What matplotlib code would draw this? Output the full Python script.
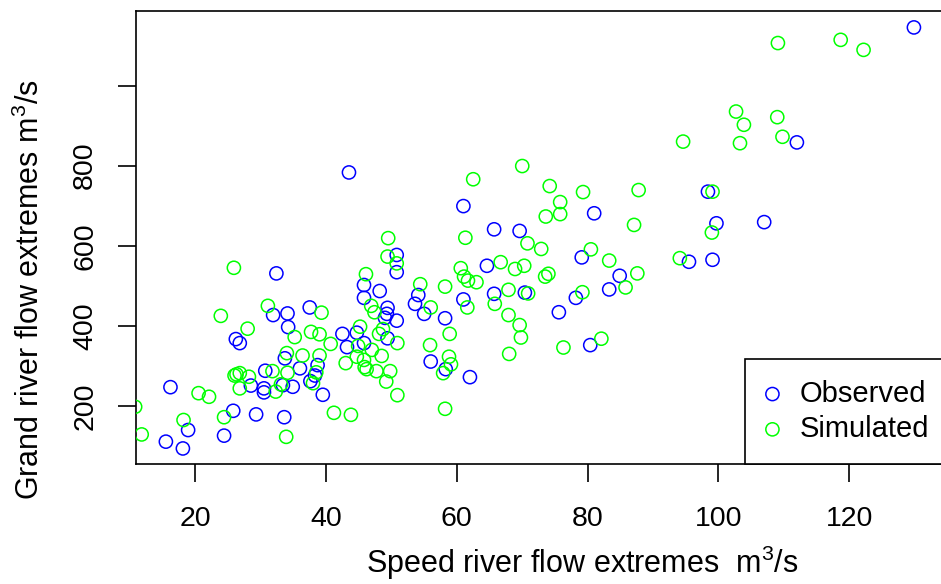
import matplotlib
matplotlib.use("Agg")
import matplotlib.pyplot as plt

plt.rcParams['font.family'] = ['Liberation Sans', 'DejaVu Sans']
plt.rcParams['mathtext.fontset'] = 'custom'
plt.rcParams['mathtext.rm'] = 'Liberation Sans'
plt.rcParams['mathtext.it'] = 'Liberation Sans:italic'

obs_x = [50.8, 50.8, 32.4, 45.8, 48.2, 45.8, 49.4, 49.3, 31.9, 34.1,
         37.5, 34.2, 26.2, 26.8, 42.5, 44.7, 43.2, 45.8, 49.0, 50.8,
         49.4, 33.7, 38.7, 36.0, 30.7, 38.3, 37.6, 28.5, 30.5, 30.5,
         33.4, 34.9, 39.5, 16.2, 25.8, 29.3, 33.6, 18.9, 15.5, 18.1,
         24.4, 64.6, 84.9, 54.1, 53.6, 55.0, 58.2, 61.0, 65.7, 70.4,
         78.2, 83.3, 75.6, 80.4, 56.0, 58.3, 62.0, 79.1, 95.5, 99.1,
         43.5, 61.0, 81.0, 65.7, 69.6, 129.9, 112.0, 98.4, 99.7, 107.0]
obs_y = [577, 534, 531, 502, 487, 470, 445, 430, 427, 431,
         446, 397, 367, 357, 380, 383, 347, 357, 420, 413,
         369, 319, 302, 294, 288, 276, 262, 251, 244, 234,
         252, 248, 228, 247, 188, 179, 172, 140, 111, 94,
         126, 550, 525, 477, 455, 430, 419, 466, 480, 483,
         470, 491, 434, 352, 311, 292, 272, 571, 560, 565,
         783, 699, 681, 641, 637, 1145, 858, 735, 656, 659]

sim_x = [49.5, 49.4, 50.8, 25.9, 46.1, 46.9, 47.4, 31.1, 39.3, 23.9,
         28.0, 35.2, 37.7, 39.0, 40.7, 45.2, 48.7, 48.1, 50.9, 47.0,
         48.5, 44.9, 44.7, 43.0, 45.8, 45.9, 46.2, 47.7, 49.8, 49.2,
         50.9, 34.0, 36.4, 39.0, 34.1, 31.8, 38.5, 38.0, 26.3, 26.8,
         26.0, 28.2, 26.8, 32.3, 33.1, 20.5, 22.1, 10.8, 41.2, 43.8,
         24.4, 18.2, 11.8, 33.9, 61.3, 70.8, 72.9, 80.5, 83.3, 94.1,
         66.7, 68.9, 70.3, 60.6, 61.1, 61.7, 63.0, 73.5, 74.0, 87.6,
         54.4, 58.2, 56.0, 61.6, 65.8, 67.9, 70.9, 79.2, 85.8, 67.9,
         69.6, 69.8, 58.9, 55.9, 68.0, 76.3, 82.1, 58.8, 59.1, 57.9,
         58.2, 99.0, 94.6, 70.0, 62.5, 74.2, 79.3, 87.8, 75.8, 75.8,
         73.6, 87.1, 109.1, 118.7, 122.2, 102.7, 103.9, 109.0, 109.8, 103.3, 99.1]
sim_y = [619, 573, 556, 545, 529, 450, 434, 450, 433, 425,
         393, 372, 385, 379, 355, 398, 392, 380, 357, 340,
         325, 350, 323, 307, 315, 297, 292, 287, 287, 261,
         227, 332, 326, 326, 283, 287, 284, 257, 279, 282,
         276, 273, 244, 236, 254, 232, 223, 198, 183, 178,
         172, 165, 129, 123, 620, 606, 592, 591, 563, 569,
         559, 542, 550, 544, 523, 513, 509, 523, 530, 531,
         504, 498, 446, 446, 455, 490, 481, 484, 496, 427,
         402, 371, 380, 352, 330, 346, 368, 323, 304, 282,
         193, 633, 860, 799, 766, 749, 734, 739, 709, 679,
         673, 652, 1106, 1114, 1089, 935, 902, 921, 872, 856, 735]

x_ticks = [20, 40, 60, 80, 100, 120]
y_ticks = [200, 400, 600, 800, 1000]
y_tick_labels = ['200', '400', '600', '800', '']
series_names = ['Observed', 'Simulated']
series_colors = ['#0000FF', '#00FF00']

W, H = 941, 584
fig = plt.figure(figsize=(W / 100, H / 100), dpi=100)
ax_l, ax_r, ax_t, ax_b = 136, 1029, 11, 464
ax = fig.add_axes([ax_l / W, 1 - ax_b / H, (ax_r - ax_l) / W, (ax_b - ax_t) / H])

ms = 90
lw = 1.1
ax.scatter(obs_x, obs_y, s=ms, facecolors='none', edgecolors=series_colors[0],
           linewidths=lw, label=series_names[0], zorder=2)
ax.scatter(sim_x, sim_y, s=ms, facecolors='none', edgecolors=series_colors[1],
           linewidths=lw, label=series_names[1], zorder=3)

ax.set_xlim(10.93, 147.5)
ax.set_ylim(55.2, 1186)

ax.set_xticks(x_ticks)
ax.set_xticklabels([str(v) for v in x_ticks])
ax.set_yticks(y_ticks)
ax.set_yticklabels(y_tick_labels, rotation=90, va='center')

for sp in ax.spines.values():
    sp.set_linewidth(1.2)
    sp.set_color('black')

ax.tick_params(axis='x', length=13.2, width=1.2, pad=17, labelsize=20.5)
ax.tick_params(axis='y', length=13.2, width=1.2, pad=14, labelsize=20.5)

ax.set_xlabel('Speed river flow extremes  m$^3$/s', fontsize=22)
ax.set_ylabel('Grand river flow extremes m$^3$/s', fontsize=22)
ax.xaxis.set_label_coords(0.5, -0.175)
ax.yaxis.set_label_coords(-0.101, 0.385)

leg_x0 = 745.3
leg = ax.legend(loc='lower left',
                bbox_to_anchor=(leg_x0 / W, 1 - ax_b / H, (ax_r - leg_x0) / W, 110 / H),
                bbox_transform=fig.transFigure, borderaxespad=0, mode='expand',
                fontsize=21, frameon=True, fancybox=False, framealpha=1,
                edgecolor='black', borderpad=0.72, labelspacing=0.25,
                handlelength=0.42, handletextpad=0.73, markerscale=1.0)
leg.get_frame().set_linewidth(1.2)
leg.set_zorder(5)

fig.savefig('out.png', dpi=100)
